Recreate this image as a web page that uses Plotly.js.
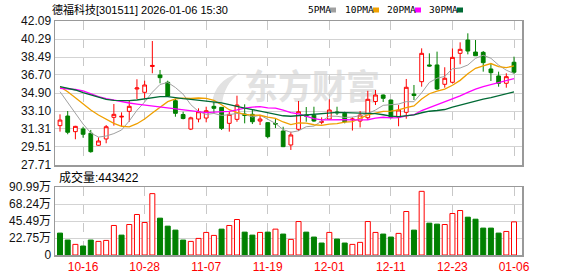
<!DOCTYPE html>
<html>
<head>
<meta charset="utf-8">
<script src="https://cdn.plot.ly/plotly-3.0.1.min.js"></script>
<style>html,body{margin:0;padding:0;background:#fff;}#chart{width:578px;height:276px;}</style>
</head>
<body>
<div id="chart"></div>
<script>
// ---- data ----
const stockName = '德福科技[301511] 2026-01-06 15:30';
const dates = ['10-13','10-14','10-15','10-16','10-17','10-20','10-21','10-22','10-23','10-24',
  '10-27','10-28','10-29','10-30','10-31','11-03','11-04','11-05','11-06','11-07',
  '11-10','11-11','11-12','11-13','11-14','11-17','11-18','11-19','11-20','11-21',
  '11-24','11-25','11-26','11-27','11-28','12-01','12-02','12-03','12-04','12-05',
  '12-08','12-09','12-10','12-11','12-12','12-15','12-16','12-17','12-18','12-19',
  '12-22','12-23','12-24','12-25','12-26','12-29','12-30','12-31','01-05','01-06'];
const tickDates = ['10-16','10-28','11-07','11-19','12-01','12-11','12-23','01-06'];
const openP = [31.64,32.60,31.04,31.31,30.88,29.68,30.31,32.47,32.50,33.07,
  35.30,34.97,37.55,36.70,35.97,34.13,32.75,31.30,32.30,32.40,
  33.57,33.47,31.87,32.27,32.80,32.77,32.10,31.94,31.85,31.10,
  29.71,31.28,32.70,32.68,31.98,32.30,33.00,32.87,32.22,32.10,
  32.43,34.05,34.70,34.20,32.47,32.97,34.80,36.03,37.70,37.70,
  35.77,35.97,38.86,40.19,38.99,38.96,37.30,36.60,35.87,37.97];
const highP = [32.77,33.10,31.62,31.53,31.21,30.48,31.70,33.80,32.97,34.13,
  36.27,36.13,40.09,37.20,36.13,34.30,33.03,32.53,33.37,33.53,
  34.00,33.50,33.03,34.63,33.77,33.27,32.70,31.97,32.30,31.53,
  31.04,34.10,33.50,33.53,32.47,34.27,33.53,33.03,32.47,33.10,
  35.12,35.20,34.75,34.22,33.70,36.30,35.70,39.36,38.86,39.03,
  37.47,39.36,39.96,40.86,40.19,39.09,37.86,37.03,36.87,38.53];
const lowP = [31.04,30.78,30.28,30.44,28.94,29.62,29.88,31.64,31.53,32.03,
  34.30,34.37,36.87,35.87,34.53,32.53,32.27,31.20,31.97,31.97,
  32.87,31.21,31.04,32.03,31.87,31.80,31.70,30.37,31.40,29.50,
  29.21,31.11,32.03,32.03,31.77,32.27,32.70,31.87,31.15,31.46,
  32.20,33.70,34.00,32.37,31.58,32.33,34.20,35.53,37.53,35.20,
  35.43,35.87,37.77,38.76,38.60,37.03,36.10,35.53,35.43,36.80];
const closeP = [32.20,30.98,31.57,30.78,29.04,30.11,31.53,32.77,32.57,33.57,
  35.40,35.70,37.65,36.43,34.60,32.87,32.35,32.42,33.03,33.13,
  33.37,31.37,32.77,33.70,32.65,32.03,32.30,30.54,31.80,29.54,
  30.71,33.03,32.60,32.10,32.03,33.20,32.93,32.03,32.30,32.70,
  34.27,34.70,34.37,32.45,33.20,35.47,34.65,38.86,37.60,35.30,
  36.37,38.46,39.26,39.09,38.62,37.93,36.93,35.87,36.53,36.97];
const closeBeforeFirst = 32.99;
const volume = [293000,200000,142000,120000,200000,182000,195000,395000,266000,408000,
  542000,435000,821000,493000,386000,333000,200000,182000,222000,302000,
  262000,346000,395000,475000,306000,266000,302000,306000,346000,280000,
  209000,448000,306000,240000,160000,302000,213000,160000,142000,169000,
  448000,302000,280000,240000,289000,582000,333000,852000,426000,413000,
  408000,555000,595000,506000,479000,360000,360000,293000,315000,443422];
// MA values for the days before a full window exists
const ma5Early = [35.03,33.95,32.85,31.80];
const ma10Early = [35.53,35.03,34.43,33.80,33.20,32.70,32.27,31.87,31.58];
const ma20Early = [35.37,35.30,35.25,35.10,34.80,34.53,34.33,34.17,34.03,33.90,
  33.80,33.70,33.63,33.57,33.47,33.37,33.27,33.17,33.05];
const ma30Early = [35.53,35.37,35.20,34.93,34.70,34.47,34.27,34.17,34.13,34.13,
  34.20,34.33,34.43,34.53,34.53,34.40,34.33,34.27,34.20,34.13,
  34.05,33.92,33.75,33.55,33.40,33.25,33.10,32.95,32.80];
const priceTicks = [27.71,29.51,31.31,33.10,34.90,36.70,38.49,40.29,42.09];
const volTicks = [0,227475,454950,682425,909900];
const volTickText = ['0','22.75万','45.49万','68.24万','90.99万'];
const maNames = ['5PMA','10PMA','20PMA','30PMA'];

// ---- derived ----
const idx = dates.map((d,i)=>i);
function movingAverage(vals, n, early){
  return vals.map((v,i)=>{
    if(i < n-1) return early[i];
    let s=0; for(let k=i-n+1;k<=i;k++) s+=vals[k];
    return s/n;
  });
}
const ma = [
  movingAverage(closeP,5,ma5Early),
  movingAverage(closeP,10,ma10Early),
  movingAverage(closeP,20,ma20Early),
  movingAverage(closeP,30,ma30Early)
];
const RED='#ff0000', GREEN='#008000';
const maColors = ['#a0a0a0','#f0a000','#ff00ff','#006a35'];
const maWidths = [1,1.3,1.3,1.3];
const volUp = closeP.map((c,i)=> c >= (i===0 ? closeBeforeFirst : closeP[i-1]));

const traces = [];
traces.push({
  type:'candlestick', x:idx, open:openP, high:highP, low:lowP, close:closeP,
  xaxis:'x', yaxis:'y', whiskerwidth:0,
  increasing:{line:{color:RED,width:1}, fillcolor:'#ffffff'},
  decreasing:{line:{color:GREEN,width:1}, fillcolor:GREEN},
  hoverinfo:'skip'
});
ma.forEach((m,k)=>{
  traces.push({type:'scatter', mode:'lines', x:idx, y:m, xaxis:'x', yaxis:'y',
    line:{color:maColors[k], width:maWidths[k]}, hoverinfo:'skip'});
});
traces.push({
  type:'bar', x:idx, y:volume, xaxis:'x', yaxis:'y2',
  marker:{color:volUp.map(u=>u?'#ffffff':GREEN), line:{color:volUp.map(u=>u?RED:GREEN), width:1}},
  hoverinfo:'skip'
});

// pixel helpers for layout decorations
const L=55, R=522, T=21, B=255;
const px = x => (x-L)/(R-L);
const py = y => (B-y)/(B-T);

const font = 'Liberation Sans, Arial, Noto Sans CJK SC, sans-serif';
const annotations = [
  {text:stockName, x:px(50), y:py(10), xref:'paper', yref:'paper', xanchor:'left', yanchor:'middle',
   showarrow:false, font:{family:font, size:11, color:'#000'}},
  {text:'成交量:'+volume[volume.length-1], x:px(57), y:py(177), xref:'paper', yref:'paper',
   xanchor:'left', yanchor:'middle', showarrow:false, font:{family:font, size:12, color:'#000'}}
];
const legendX = [306, 343, 385, 427];
const legendSq = [330, 373, 415, 457];
const shapes = [];
maNames.forEach((n,k)=>{
  annotations.push({text:n, x:px(legendX[k]), y:py(10), xref:'paper', yref:'paper', xanchor:'left',
    yanchor:'middle', showarrow:false, font:{family:'DejaVu Sans Mono, monospace', size:9.5, color:'#000'}});
  shapes.push({type:'rect', xref:'paper', yref:'paper', x0:px(legendSq[k]), x1:px(legendSq[k]+6),
    y0:py(12.5), y1:py(7.5), fillcolor:maColors[k], line:{width:0}});
});
// watermark (logo swoosh + text)
const wm = '#e2e2e2';
shapes.push({type:'path', xref:'paper', yref:'paper', layer:'below', fillcolor:wm, line:{width:0},
  path:'M'+px(212)+','+py(104)+' Q'+px(214)+','+py(80)+' '+px(240)+','+py(73)+
       ' Q'+px(224)+','+py(84)+' '+px(222)+','+py(104)+' Z'});
shapes.push({type:'rect', xref:'paper', yref:'paper', x0:px(240), x1:px(384), y0:py(107), y1:py(72),
  layer:'below', line:{width:0, color:wm}, fillcolor:'rgba(255,255,255,0)',
  label:{text:'东方财富', textposition:'middle center',
    font:{family:'Noto Sans CJK SC', size:34, color:wm, weight:700}}});

const layout = {
  width:578, height:276, margin:{l:L, r:578-R, t:T, b:276-B, pad:0},
  paper_bgcolor:'#fff', plot_bgcolor:'rgba(255,255,255,0)', showlegend:false, hovermode:false,
  bargap:0.35, boxgap:0.3,
  xaxis:{range:[-0.65,60.04], anchor:'y2', tickvals:tickDates.map(d=>dates.indexOf(d)), ticktext:tickDates,
    tickfont:{family:font, size:12, color:RED}, ticks:'', showgrid:true, gridcolor:'#c8c8c8',
    griddash:'dash', gridwidth:1, zeroline:false, showline:true, linecolor:'#999', linewidth:1.5,
    mirror:'all', rangeslider:{visible:false}, fixedrange:true},
  yaxis:{domain:[py(165),1], range:[priceTicks[0], priceTicks[priceTicks.length-1]], tickvals:priceTicks,
    ticktext:priceTicks.map(v=>v.toFixed(2)), tickfont:{family:font, size:12, color:'#111'}, ticks:'',
    showgrid:true, gridcolor:'#d3d3d3', gridwidth:1, zeroline:false, showline:true, linecolor:'#999',
    linewidth:1.5, mirror:true, fixedrange:true},
  yaxis2:{domain:[0,py(187)], range:[volTicks[0], volTicks[volTicks.length-1]], tickvals:volTicks,
    ticktext:volTickText, tickfont:{family:font, size:12, color:'#111'}, ticks:'', showgrid:true,
    gridcolor:'#d3d3d3', gridwidth:1, zeroline:false, showline:true, linecolor:'#999', linewidth:1.5,
    mirror:true, fixedrange:true},
  annotations:annotations, shapes:shapes
};
Plotly.newPlot('chart', traces, layout, {staticPlot:true, displayModeBar:false});
</script>
</body>
</html>
